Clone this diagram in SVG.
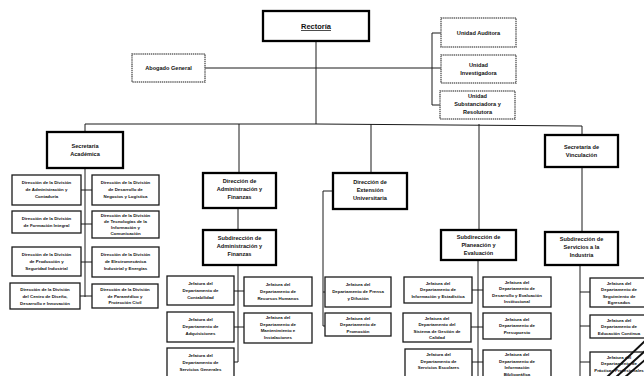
<svg xmlns="http://www.w3.org/2000/svg" width="644" height="376" viewBox="0 0 644 376">
<style>
text{font-family:"Liberation Sans",Arial,sans-serif;font-weight:bold;fill:#111;text-anchor:middle}
.s{font-size:4.4px}
.m{font-size:5.6px}
.b{fill:#fff;stroke:#1a1a1a;stroke-width:1.3}
.t{fill:#fff;stroke:#000;stroke-width:2.3}
.u{fill:#fff;stroke:#666;stroke-width:1.5;stroke-dasharray:1.4 0.7}
.c{fill:none;stroke:#1a1a1a;stroke-width:1}
</style>
<rect width="644" height="376" fill="#fff"/>
<g id="connectors">
<path class="c" d="M316,41V124M85,124H316L582,126V135M85,124V132M239,124V173M371,124V173M479,124V230"/>
<path class="c" d="M205,68H441M432,33V105M432,33H441M432,105H440"/>
<path class="c" d="M85,168V297M81,190H92M81,224H92M81,262H92M80,296H92"/>
<path class="c" d="M238,208V230M238,265V362M234,291H244M234,327H244M234,362H238"/>
<path class="c" d="M333,191H323V326M323,292H325M323,326H325"/>
<path class="c" d="M478,260V376M472,290H483M471,327H483M472,362H483"/>
<path class="c" d="M582,167V232M580,265V376M580,292H590M580,326H590M580,362H590"/>
</g>
<g id="rectoria"><rect class="t" x="263" y="11" width="106" height="30"/><text x="316" y="29" style="font-size:7.5px;text-decoration:underline">Rectoría</text></g>
<g id="abogado"><rect class="u" x="132" y="54" width="73" height="28"/><text class="m" x="168.5" y="70">Abogado General</text></g>
<g id="auditora"><rect class="u" x="441" y="18" width="75" height="29"/><text class="m" x="478.5" y="34.5">Unidad Auditora</text></g>
<g id="investigadora"><rect class="u" x="441" y="55" width="75" height="28"/><text class="m" x="478.5" y="67">Unidad</text><text class="m" x="478.5" y="75">Investigadora</text></g>
<g id="substanciadora"><rect class="u" x="440" y="91" width="75" height="28"/><text class="m" x="477.5" y="97.5">Unidad</text><text class="m" x="477.5" y="105.5">Substanciadora y</text><text class="m" x="477.5" y="113.5">Resolutora</text></g>

<g id="sec-academica"><rect class="t" x="47" y="132" width="76" height="36"/><text class="m" x="85" y="148">Secretaría</text><text class="m" x="85" y="156">Académica</text></g>
<g id="div-admin"><rect class="b" x="12" y="175" width="69" height="30"/><text class="s" x="46.5" y="184">Dirección de la División</text><text class="s" x="46.5" y="191">de Administración y</text><text class="s" x="46.5" y="198">Contaduría</text></g>
<g id="div-negocios"><rect class="b" x="92" y="175" width="67" height="30"/><text class="s" x="125.5" y="184">Dirección de la División</text><text class="s" x="125.5" y="191">de Desarrollo de</text><text class="s" x="125.5" y="198">Negocios y Logística</text></g>
<g id="div-formacion"><rect class="b" x="12" y="211" width="69" height="22"/><text class="s" x="46.5" y="220">Dirección de la División</text><text class="s" x="46.5" y="227">de Formación Integral</text></g>
<g id="div-tic"><rect class="b" x="92" y="211" width="67" height="27"/><text class="s" x="125.5" y="217">Dirección de la División</text><text class="s" x="125.5" y="223">de Tecnologías de la</text><text class="s" x="125.5" y="229">Información y</text><text class="s" x="125.5" y="235">Comunicación</text></g>
<g id="div-produccion"><rect class="b" x="12" y="247" width="69" height="29"/><text class="s" x="46.5" y="256">Dirección de la División</text><text class="s" x="46.5" y="263">de Producción y</text><text class="s" x="46.5" y="270">Seguridad Industrial</text></g>
<g id="div-electro"><rect class="b" x="92" y="247" width="67" height="30"/><text class="s" x="125.5" y="256">Dirección de la División</text><text class="s" x="125.5" y="263">de Electromecánica</text><text class="s" x="125.5" y="270">Industrial y Energías</text></g>
<g id="div-diseno"><rect class="b" x="10" y="283" width="70" height="26"/><text class="s" x="45" y="290.5">Dirección de la División</text><text class="s" x="45" y="297.5">del Centro de Diseño,</text><text class="s" x="45" y="304.5">Desarrollo e Innovación</text></g>
<g id="div-paramedico"><rect class="b" x="92" y="284" width="66" height="24"/><text class="s" x="125" y="291">Dirección de la División</text><text class="s" x="125" y="297.5">de Paramédico y</text><text class="s" x="125" y="304">Protección Civil</text></g>

<g id="dir-admin"><rect class="t" x="203" y="173" width="73" height="35"/><text class="m" x="239.5" y="183">Dirección de</text><text class="m" x="239.5" y="191">Administración y</text><text class="m" x="239.5" y="199">Finanzas</text></g>
<g id="sub-admin"><rect class="t" x="203" y="230" width="73" height="35"/><text class="m" x="239.5" y="240">Subdirección de</text><text class="m" x="239.5" y="248">Administración y</text><text class="m" x="239.5" y="256">Finanzas</text></g>
<g id="contabilidad"><rect class="b" x="167" y="276" width="67" height="29"/><text class="s" x="200.5" y="285">Jefatura del</text><text class="s" x="200.5" y="292">Departamento de</text><text class="s" x="200.5" y="299">Contabilidad</text></g>
<g id="rrhh"><rect class="b" x="244" y="277" width="68" height="29"/><text class="s" x="278" y="286">Jefatura del</text><text class="s" x="278" y="293">Departamento de</text><text class="s" x="278" y="300">Recursos Humanos</text></g>
<g id="adquisiciones"><rect class="b" x="167" y="312" width="67" height="30"/><text class="s" x="200.5" y="321">Jefatura del</text><text class="s" x="200.5" y="328">Departamento de</text><text class="s" x="200.5" y="335">Adquisiciones</text></g>
<g id="mantenimiento"><rect class="b" x="244" y="313" width="68" height="30"/><text class="s" x="278" y="319">Jefatura del</text><text class="s" x="278" y="325.5">Departamento de</text><text class="s" x="278" y="332">Mantenimiento e</text><text class="s" x="278" y="338.5">Instalaciones</text></g>
<g id="servicios-generales"><rect class="b" x="167" y="348" width="67" height="32"/><text class="s" x="200.5" y="357">Jefatura del</text><text class="s" x="200.5" y="364">Departamento de</text><text class="s" x="200.5" y="371">Servicios Generales</text></g>

<g id="dir-extension"><rect class="t" x="333" y="173" width="74" height="36"/><text class="m" x="370" y="184">Dirección de</text><text class="m" x="370" y="192">Extensión</text><text class="m" x="370" y="200">Universitaria</text></g>
<g id="prensa"><rect class="b" x="325" y="277" width="66" height="30"/><text class="s" x="358" y="286">Jefatura del</text><text class="s" x="358" y="293">Departamento de Prensa</text><text class="s" x="358" y="300">y Difusión</text></g>
<g id="promocion"><rect class="b" x="325" y="313" width="66" height="23"/><text class="s" x="358" y="319.5">Jefatura del</text><text class="s" x="358" y="326">Departamento de</text><text class="s" x="358" y="332.5">Promoción</text></g>

<g id="sub-planeacion"><rect class="t" x="441" y="230" width="75" height="30"/><text class="m" x="478.5" y="239">Subdirección de</text><text class="m" x="478.5" y="247">Planeación y</text><text class="m" x="478.5" y="255">Evaluación</text></g>
<g id="estadistica"><rect class="b" x="404" y="277" width="68" height="26"/><text class="s" x="438" y="284.5">Jefatura del</text><text class="s" x="438" y="291">Departamento de</text><text class="s" x="438" y="297.5">Información y Estadística</text></g>
<g id="desarrollo"><rect class="b" x="483" y="277" width="68" height="30"/><text class="s" x="517" y="283.5">Jefatura del</text><text class="s" x="517" y="290">Departamento de</text><text class="s" x="517" y="296.5">Desarrollo y Evaluación</text><text class="s" x="517" y="303">Institucional</text></g>
<g id="calidad"><rect class="b" x="403" y="313" width="68" height="29"/><text class="s" x="437" y="319.5">Jefatura del</text><text class="s" x="437" y="326">Departamento del</text><text class="s" x="437" y="332.5">Sistema de Gestión de</text><text class="s" x="437" y="339">Calidad</text></g>
<g id="presupuesto"><rect class="b" x="483" y="313" width="68" height="26"/><text class="s" x="517" y="320.5">Jefatura del</text><text class="s" x="517" y="327">Departamento de</text><text class="s" x="517" y="333.5">Presupuesto</text></g>
<g id="escolares"><rect class="b" x="405" y="349" width="67" height="30"/><text class="s" x="438.5" y="356">Jefatura del</text><text class="s" x="438.5" y="362.5">Departamento de</text><text class="s" x="438.5" y="369">Servicios Escolares</text></g>
<g id="bibliografica"><rect class="b" x="483" y="350" width="68" height="30"/><text class="s" x="517" y="356">Jefatura del</text><text class="s" x="517" y="362.5">Departamento de</text><text class="s" x="517" y="369">Información</text><text class="s" x="517" y="375.5">Bibliográfica</text></g>

<g id="sec-vinculacion"><rect class="t" x="545" y="135" width="73" height="32"/><text class="m" x="581.5" y="149">Secretaría de</text><text class="m" x="581.5" y="157">Vinculación</text></g>
<g id="sub-servicios"><rect class="t" x="545" y="232" width="73" height="33"/><text class="m" x="581.5" y="241">Subdirección de</text><text class="m" x="581.5" y="249">Servicios a la</text><text class="m" x="581.5" y="257">Industria</text></g>
<g id="egresados"><rect class="b" x="590" y="278" width="58" height="29"/><text class="s" x="619" y="284.5">Jefatura del</text><text class="s" x="619" y="291">Departamento de</text><text class="s" x="619" y="297.5">Seguimiento de</text><text class="s" x="619" y="304">Egresados</text></g>
<g id="educacion-continua"><rect class="b" x="590" y="315" width="58" height="23"/><text class="s" x="619" y="321.5">Jefatura del</text><text class="s" x="619" y="328">Departamento de</text><text class="s" x="619" y="334.5">Educación Continua</text></g>
<g id="practicas"><rect class="b" x="590" y="352" width="58" height="28"/><text class="s" x="619" y="358.5">Jefatura del</text><text class="s" x="619" y="365">Departamento de</text><text class="s" x="619" y="371.5">Prácticas Profesionales</text></g>
<path d="M606,378L646,340M615,378L646,350M624,378L646,359" stroke="#111" stroke-width="2" fill="none"/>
</svg>
